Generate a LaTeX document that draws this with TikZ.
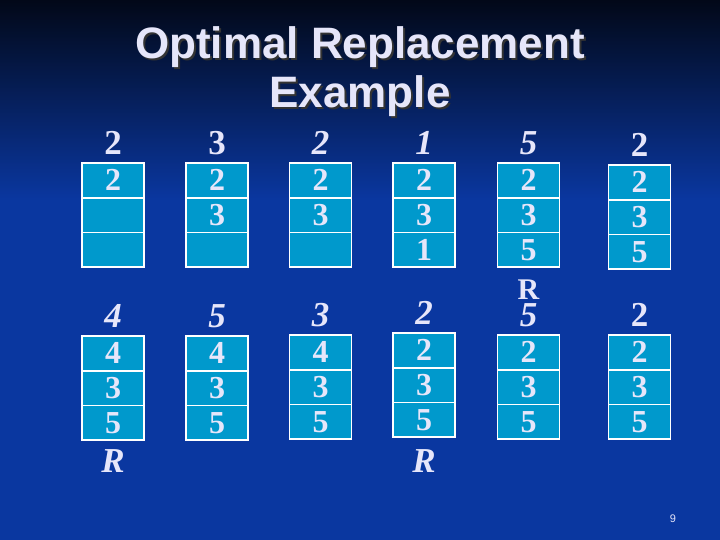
\documentclass[tikz,border=0pt]{standalone}
\usepackage{fontspec}
\setmainfont{Liberation Serif}
\newfontfamily\titlefont{Liberation Sans}
\usetikzlibrary{positioning}
\definecolor{slidebg}{HTML}{0A37A0}
\definecolor{slidetop}{HTML}{020818}
\definecolor{framefill}{HTML}{0099CC}
\definecolor{inktext}{HTML}{E6E6FA}

\begin{document}
\begin{tikzpicture}[
    x=1pt, y=1pt,
    framecell/.style={rectangle, draw=white, line width=1.6pt, fill=framefill, outer sep=0pt, inner sep=0pt,
        minimum width=62pt, minimum height=34.7pt, text=inktext, font=\fontsize{32}{32}\selectfont\bfseries},
    requp/.style={inner sep=0pt, text=inktext, font=\fontsize{35}{35}\selectfont\bfseries},
    reqit/.style={inner sep=0pt, text=inktext, font=\fontsize{35}{35}\selectfont\bfseries\itshape},
    missmark/.style={inner sep=0pt, text=inktext, font=\fontsize{35}{35}\selectfont\bfseries\itshape}
]

% Background
\useasboundingbox (0,0) rectangle (720,-540);
\fill[slidebg] (0,0) rectangle (720,-540);
\shade[top color=slidetop, bottom color=slidebg] (0,0) rectangle (720,-200);

% Title
\node[text=black!80, font=\titlefont\fontsize{44}{49}\selectfont\bfseries, align=center, anchor=base] (titleshadow) at (362,-110) {Optimal Replacement\\Example};
\node[text=inktext, font=\titlefont\fontsize{44}{49}\selectfont\bfseries, align=center, anchor=base] (title) at (360,-108) {Optimal Replacement\\Example};

% Row 1, column 1
\node[framecell] (f1a) at (113,-180.4) {2};
\node[framecell, below=0pt of f1a] (f1b) {};
\node[framecell, below=0pt of f1b] (f1c) {};
\node[requp, above=8pt of f1a] (req1) {2};

% Row 1, column 2
\node[framecell] (f2a) at (217,-180.4) {2};
\node[framecell, below=0pt of f2a] (f2b) {3};
\node[framecell, below=0pt of f2b] (f2c) {};
\node[requp, above=8pt of f2a] (req2) {3};

% Row 1, column 3
\node[framecell] (f3a) at (320.5,-180.4) {2};
\node[framecell, below=0pt of f3a] (f3b) {3};
\node[framecell, below=0pt of f3b] (f3c) {};
\node[reqit, above=8pt of f3a] (req3) {2};

% Row 1, column 4
\node[framecell] (f4a) at (424,-180.4) {2};
\node[framecell, below=0pt of f4a] (f4b) {3};
\node[framecell, below=0pt of f4b] (f4c) {1};
\node[reqit, above=8pt of f4a] (req4) {1};

% Row 1, column 5
\node[framecell] (f5a) at (528.5,-180.4) {2};
\node[framecell, below=0pt of f5a] (f5b) {3};
\node[framecell, below=0pt of f5b] (f5c) {5};
\node[reqit, above=8pt of f5a] (req5) {5};

% Row 1, column 6
\node[framecell] (f6a) at (639.5,-182.4) {2};
\node[framecell, below=0pt of f6a] (f6b) {3};
\node[framecell, below=0pt of f6b] (f6c) {5};
\node[requp, above=8pt of f6a] (req6) {2};

% Row 2, column 1
\node[framecell] (f7a) at (113,-353.4) {4};
\node[framecell, below=0pt of f7a] (f7b) {3};
\node[framecell, below=0pt of f7b] (f7c) {5};
\node[reqit, above=8pt of f7a] (req7) {4};
\node[missmark, below=9pt of f7c] (miss7) {R};

% Row 2, column 2
\node[framecell] (f8a) at (217,-353.4) {4};
\node[framecell, below=0pt of f8a] (f8b) {3};
\node[framecell, below=0pt of f8b] (f8c) {5};
\node[reqit, above=8pt of f8a] (req8) {5};

% Row 2, column 3
\node[framecell] (f9a) at (320.5,-352.4) {4};
\node[framecell, below=0pt of f9a] (f9b) {3};
\node[framecell, below=0pt of f9b] (f9c) {5};
\node[reqit, above=8pt of f9a] (req9) {3};

% Row 2, column 4
\node[framecell] (f10a) at (424,-350.4) {2};
\node[framecell, below=0pt of f10a] (f10b) {3};
\node[framecell, below=0pt of f10b] (f10c) {5};
\node[reqit, above=8pt of f10a] (req10) {2};
\node[missmark, below=12pt of f10c] (miss10) {R};

% Row 2, column 5
\node[framecell] (f11a) at (528.5,-352.4) {2};
\node[framecell, below=0pt of f11a] (f11b) {3};
\node[framecell, below=0pt of f11b] (f11c) {5};
\node[reqit, above=8pt of f11a] (req11) {5};
\node[requp, font=\fontsize{30}{30}\selectfont\bfseries, above=4pt of req11] (miss11) {R};

% Row 2, column 6
\node[framecell] (f12a) at (639.5,-352.4) {2};
\node[framecell, below=0pt of f12a] (f12b) {3};
\node[framecell, below=0pt of f12b] (f12c) {5};
\node[requp, above=8pt of f12a] (req12) {2};

% Page number
\node[text=inktext, font=\titlefont\fontsize{11}{11}\selectfont] (pageno) at (673,-519) {9};

\end{tikzpicture}
\end{document}
